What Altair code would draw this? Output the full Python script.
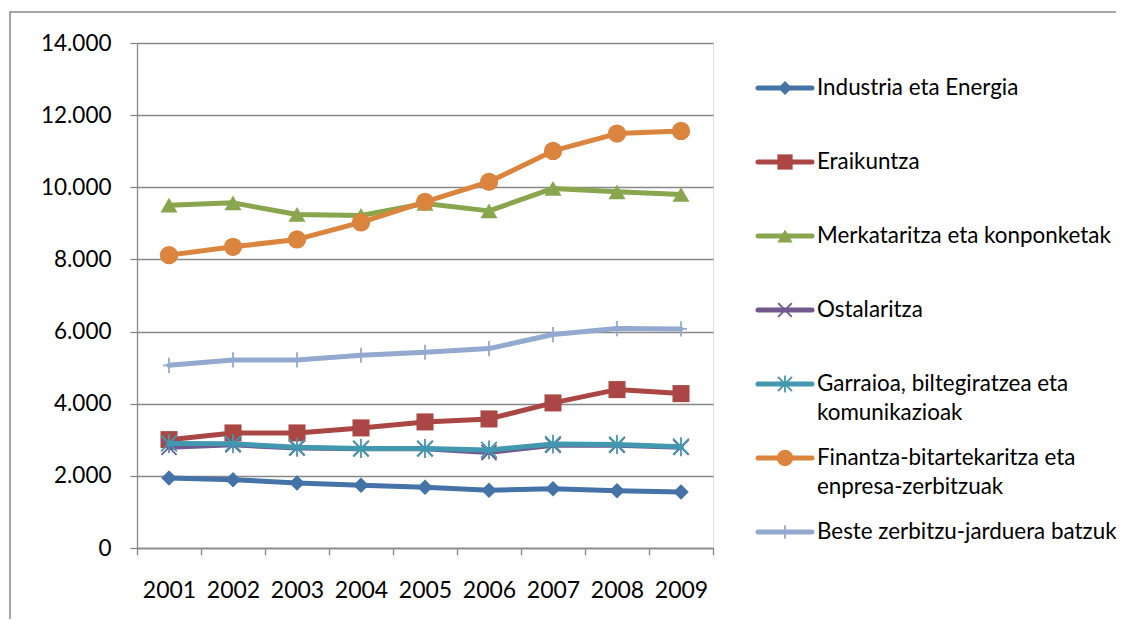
import altair as alt
import pandas as pd

years = ["2001", "2002", "2003", "2004", "2005", "2006", "2007", "2008", "2009"]

series_names = [
    "Industria eta Energia",
    "Eraikuntza",
    "Merkataritza eta konponketak",
    "Ostalaritza",
    "Garraioa, biltegiratzea eta\nkomunikazioak",
    "Finantza-bitartekaritza eta\nenpresa-zerbitzuak",
    "Beste zerbitzu-jarduera batzuk",
]

industria = [1940, 1895, 1803, 1737, 1681, 1598, 1645, 1589, 1553]
eraikuntza = [3004, 3190, 3190, 3329, 3495, 3578, 4022, 4391, 4280]
merkataritza = [9504, 9568, 9246, 9218, 9551, 9346, 9967, 9873, 9800]
ostalaritza = [2790, 2860, 2770, 2750, 2750, 2650, 2850, 2850, 2790]
garraioa = [2900, 2890, 2790, 2760, 2760, 2720, 2880, 2870, 2810]
finantza = [8119, 8350, 8554, 9025, 9596, 10150, 11008, 11490, 11563]
beste = [5065, 5215, 5215, 5343, 5426, 5528, 5917, 6083, 6074]

all_values = [industria, eraikuntza, merkataritza, ostalaritza, garraioa, finantza, beste]

colors = ["#4572A7", "#AA4643", "#89A54E", "#71588F", "#4198AF", "#DB843D", "#93A9CF"]

X_PATH = "M-1,-1L1,1M1,-1L-1,1"
AST_PATH = "M-1,-1L1,1M1,-1L-1,1M0,-1.2L0,1.2"
PLUS_PATH = "M-0.8,0L0.8,0M0,-1L0,1"
shapes = ["diamond", "square", "triangle-up", X_PATH, AST_PATH, "circle", PLUS_PATH]
filled = [True, True, True, False, False, True, False]
sizes = [240, 290, 290, 230, 250, 335, 230]

FONT = "Lato"
GRID = "#888888"

rows = []
for name, vals in zip(series_names, all_values):
    for y, v in zip(years, vals):
        rows.append({"series": name, "year": y, "value": v})
df = pd.DataFrame(rows)

x_enc = alt.X(
    "year:O",
    sort=years,
    scale=alt.Scale(type="band", paddingInner=0, paddingOuter=0),
    axis=alt.Axis(
        title=None, labelAngle=0, tickBand="extent", grid=False,
        domainColor=GRID, tickColor=GRID, tickSize=7, tickWidth=1.3, domainWidth=1.3,
        labelFont=FONT, labelFontSize=23, labelColor="#000000", labelPadding=24,
    ),
)
y_enc = alt.Y(
    "value:Q",
    scale=alt.Scale(domain=[0, 14000], nice=False, zero=True),
    axis=alt.Axis(
        title=None, values=[0, 2000, 4000, 6000, 8000, 10000, 12000, 14000],
        labelExpr="replace(format(datum.value, ','), ',', '.')",
        grid=True, gridColor=GRID, gridWidth=1.3,
        domainColor=GRID, tickColor=GRID, tickSize=7, tickWidth=1.3, domainWidth=1.3,
        labelFont=FONT, labelFontSize=22.5, labelColor="#000000", labelPadding=19,
    ),
)

base = alt.Chart(df)
main_layers = []
for i, name in enumerate(series_names):
    sub = base.transform_filter(alt.datum.series == name)
    line = sub.mark_line(color=colors[i], strokeWidth=5, strokeJoin="round", strokeCap="round").encode(
        x=x_enc, y=y_enc
    )
    if filled[i]:
        pt = sub.mark_point(shape=shapes[i], filled=True, color=colors[i], size=sizes[i], opacity=1)
    else:
        pt = sub.mark_point(shape=shapes[i], filled=False, color=colors[i], size=sizes[i],
                            strokeWidth=1.8, opacity=1)
    pt = pt.encode(x=x_enc, y=y_enc)
    main_layers += [line, pt]

# legend
leg_rows = []
for i, name in enumerate(series_names):
    leg_rows.append({"series": name, "idx": i, "line1": name.split("\n")[0],
                     "line2": name.split("\n")[1] if "\n" in name else ""})
leg_df = pd.DataFrame(leg_rows)
leg_base = alt.Chart(leg_df)
ly = alt.Y("idx:Q", scale=alt.Scale(domain=[0, 6], range=[45, 489]), axis=None)

legend_layers = []
frame = alt.Chart(pd.DataFrame({"k": [0]})).mark_rect(
    fill=None, stroke=GRID, strokeWidth=1.5
).encode(x=alt.value(-127), x2=alt.value(1000), y=alt.value(-31), y2=alt.value(700))
legend_layers.append(frame)

for i, name in enumerate(series_names):
    sub = leg_base.transform_filter(alt.datum.idx == i)
    rule = sub.mark_rule(color=colors[i], strokeWidth=5, strokeCap="round").encode(
        x=alt.value(621), x2=alt.value(675), y=ly
    )
    if filled[i]:
        pt = sub.mark_point(shape=shapes[i], filled=True, color=colors[i], size=sizes[i] * 0.8, opacity=1)
    else:
        pt = sub.mark_point(shape=shapes[i], filled=False, color=colors[i], size=sizes[i] * 0.8,
                            strokeWidth=1.8, opacity=1)
    pt = pt.encode(x=alt.value(648), y=ly)
    t1 = sub.mark_text(align="left", baseline="middle", font=FONT, fontSize=22.4, color="#000000").encode(
        x=alt.value(680), y=ly, text="line1:N"
    )
    t2 = sub.mark_text(align="left", baseline="middle", font=FONT, fontSize=22.4, color="#000000", dy=29).encode(
        x=alt.value(680), y=ly, text="line2:N"
    )
    legend_layers += [rule, pt, t1, t2]

chart = alt.layer(
    alt.layer(*main_layers),
    alt.layer(*legend_layers),
).resolve_scale(y="independent").properties(
    width=576, height=505,
    autosize=alt.AutoSizeParams(type="none"),
    padding={"left": 129, "top": 35, "right": 403, "bottom": 71},
).configure_view(stroke=None).configure(background="white")

chart.save("out.html", embed_options={"renderer": "svg", "actions": False})
